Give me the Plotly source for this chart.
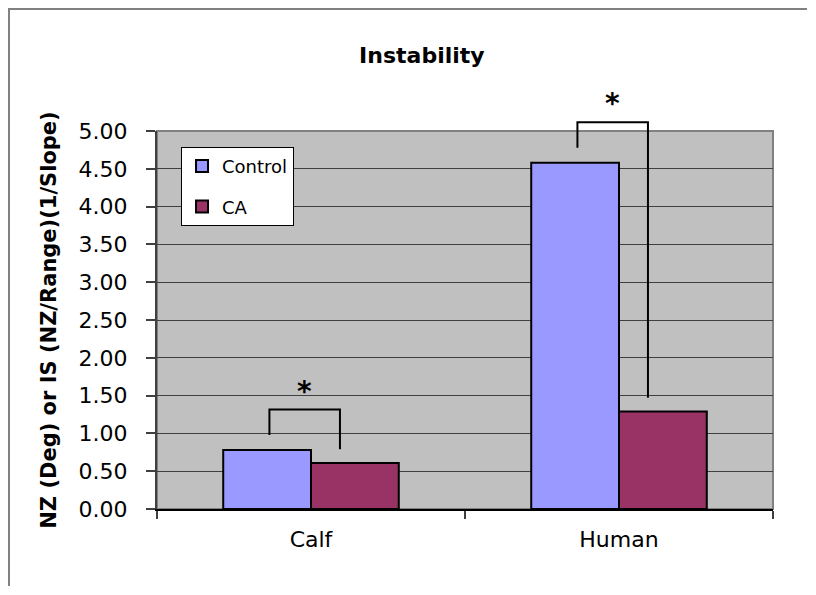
import plotly.graph_objects as go

categories = ["Calf", "Human"]
control = [0.78, 4.58]
ca = [0.61, 1.29]
series_names = ["Control", "CA"]
y_ticks = [0, 0.5, 1, 1.5, 2, 2.5, 3, 3.5, 4, 4.5, 5]
y_tick_labels = ["0.00", "0.50", "1.00", "1.50", "2.00", "2.50", "3.00", "3.50", "4.00", "4.50", "5.00"]
YMAX = 5.0

FONT = "DejaVu Sans"
FIG_W, FIG_H = 800, 579  # fits inside the 816x595 window with the page's 8px body margin

fig = go.Figure()
fig.add_trace(go.Bar(x=categories, y=control, name=series_names[0], legendgroup="a",
                     marker=dict(color="#9999FF", line=dict(color="black", width=2))))
fig.add_trace(go.Bar(x=categories, y=ca, name=series_names[1], legendgroup="b",
                     marker=dict(color="#993366", line=dict(color="black", width=2))))

shapes = []
annotations = []
# significance brackets (x in category units, y in paper = value / YMAX)
for i, (c, a) in enumerate(zip(control, ca)):
    xl = i - 0.135
    xr = i + 0.094
    yl = (c + 0.20) / YMAX
    yt = (c + 0.535) / YMAX
    yr = (a + 0.18) / YMAX
    shapes.append(dict(type="path", xref="x", yref="paper",
                       path=f"M {xl},{yl} L {xl},{yt} L {xr},{yt} L {xr},{yr}",
                       line=dict(color="black", width=2)))
    annotations.append(dict(x=(xl + xr) / 2, xref="x", y=(c + 0.78) / YMAX, yref="paper",
                            text="<b>*</b>", showarrow=False,
                            font=dict(family=FONT, size=28, color="black"),
                            xanchor="center", yanchor="middle"))

# plot area border (grey) and outer chart border (top and left edges only)
shapes.append(dict(type="rect", xref="paper", yref="paper", x0=0, x1=1, y0=0, y1=1,
                   line=dict(color="#808080", width=2), layer="below"))
shapes.append(dict(type="path", xref="paper", yref="paper",
                   path="M -0.2403,-0.2037 L -0.2403,1.3228 L 1.0552,1.3228",
                   line=dict(color="#808080", width=2), layer="below"))

fig.update_layout(
    width=FIG_W, height=FIG_H,
    margin=dict(l=149, r=35, t=123, b=78, autoexpand=False),
    paper_bgcolor="white",
    plot_bgcolor="#C0C0C0",
    barmode="group", bargap=0.43, bargroupgap=0,
    title=dict(text="<b>Instability</b>", x=0.43, xref="paper", xanchor="center",
               y=1 - 47 / FIG_H, yref="container", yanchor="middle",
               font=dict(family=FONT, size=22, color="black")),
    font=dict(family=FONT, color="black"),
    shapes=shapes,
    annotations=annotations,
    legend=dict(x=0.039, y=0.958, xanchor="left", yanchor="top",
                bgcolor="white", bordercolor="black", borderwidth=1,
                font=dict(family=FONT, size=18, color="black"),
                tracegroupgap=14, itemwidth=30),
    xaxis=dict(range=[-0.5, 1.5], showline=True, linecolor="black", linewidth=1.5,
               ticks="outside", ticklen=8, tickcolor="#404040", tickwidth=1.5,
               tickson="boundaries", showgrid=False,
               tickfont=dict(family=FONT, size=22, color="black"), ticklabelstandoff=10),
    yaxis=dict(range=[0, YMAX], tickvals=y_ticks, ticktext=y_tick_labels,
               showline=True, linecolor="#404040", linewidth=2,
               ticks="outside", ticklen=9, tickcolor="#404040", tickwidth=1.5,
               showgrid=True, gridcolor="#404040", gridwidth=1, zeroline=False,
               tickfont=dict(family=FONT, size=22, color="black"), ticklabelstandoff=14,
               title=dict(text="<b>NZ (Deg) or IS (NZ/Range)(1/Slope)</b>", standoff=16,
                          font=dict(family=FONT, size=21, color="black"))),
)

fig.write_html("out.html")
